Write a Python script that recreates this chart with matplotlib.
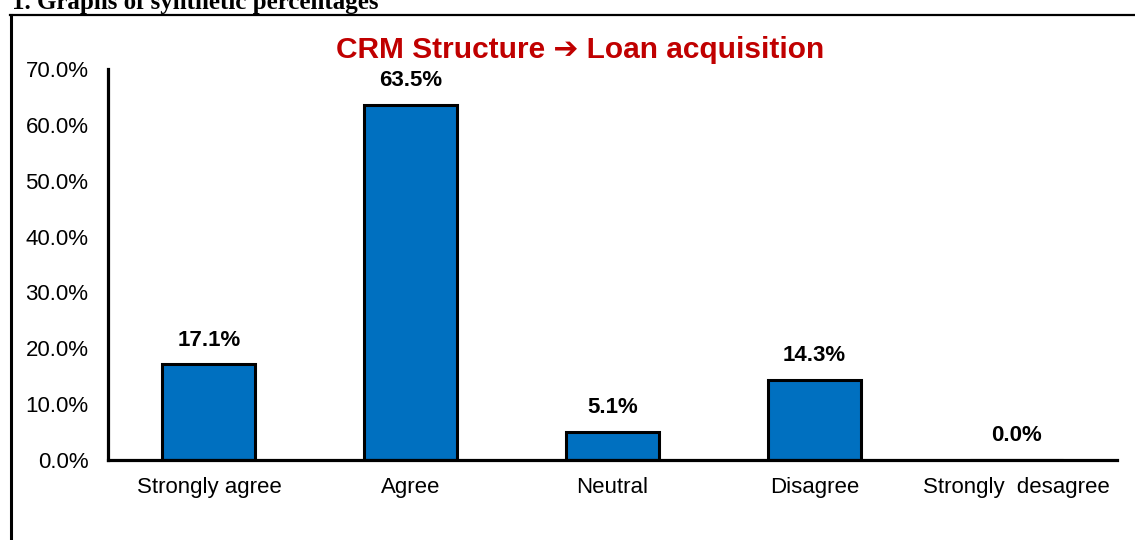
import matplotlib.pyplot as plt
from matplotlib.lines import Line2D

categories = ["Strongly agree", "Agree", "Neutral", "Disagree", "Strongly  desagree"]
percentages = [17.1, 63.5, 5.1, 14.3, 0.0]
y_ticks = [0, 10, 20, 30, 40, 50, 60, 70]

plt.rcParams["font.family"] = ["Liberation Sans", "DejaVu Sans"]

fig = plt.figure(figsize=(11.35, 5.4), dpi=100)
ax = fig.add_axes([108 / 1135, 1 - 460 / 540, (1117 - 108) / 1135, (460 - 69) / 540])

x = list(range(len(categories)))
bars = ax.bar(x, percentages, width=0.46, color="#0070C0", edgecolor="black", linewidth=2.2)

for xi, v in zip(x, percentages):
    ax.annotate(f"{v:.1f}%", (xi, v), xytext=(0, 10), textcoords="offset points",
                ha="center", va="bottom", fontsize=16, fontweight="bold")

ax.set_xlim(-0.5, len(categories) - 0.5)
ax.set_ylim(0, 70)
ax.set_yticks(y_ticks)
ax.set_yticklabels([f"{t:.1f}%" for t in y_ticks], fontsize=16)
ax.set_xticks(x)
ax.set_xticklabels(categories, fontsize=16)
ax.tick_params(axis="both", length=0)
ax.tick_params(axis="y", pad=14)
ax.tick_params(axis="x", pad=12)

for side in ["top", "right"]:
    ax.spines[side].set_visible(False)
for side in ["left", "bottom"]:
    ax.spines[side].set_linewidth(2.3)

# title above the plot
fig.text(580 / 1135, 1 - 50 / 540, "CRM Structure \u2794 Loan acquisition", color="#C00000",
         fontsize=21.5, fontweight="bold", ha="center", va="center",
         family=["Liberation Sans", "DejaVu Sans"])

# section heading, cut at the top of the picture
fig.text(12 / 1135, 1 - 9 / 540, "1. Graphs of synthetic percentages", fontsize=18,
         fontweight="bold", family=["Liberation Serif", "DejaVu Serif"],
         ha="left", va="baseline")

# frame around the chart
fig.add_artist(Line2D([11 / 1135, 11 / 1135], [0, 1 - 15 / 540], color="black",
                      linewidth=2.2, transform=fig.transFigure))
fig.add_artist(Line2D([10 / 1135, 1], [1 - 15 / 540, 1 - 15 / 540], color="black",
                      linewidth=1.6, transform=fig.transFigure))

fig.savefig("out.png", dpi=100)
